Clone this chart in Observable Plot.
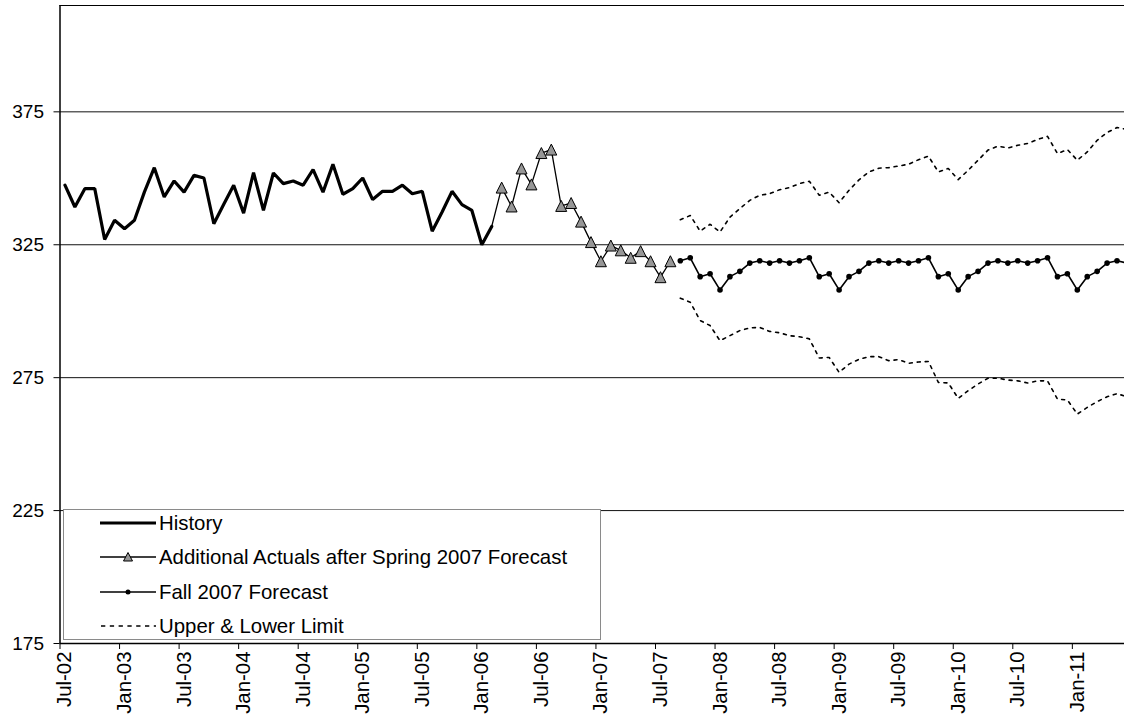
<!DOCTYPE html>
<html><head><meta charset="utf-8">
<script src="https://cdn.jsdelivr.net/npm/d3@7"></script>
<script src="https://cdn.jsdelivr.net/npm/@observablehq/plot@0.6"></script>
<style>
body{margin:0;background:#fff;font-family:"Liberation Sans",Arial,sans-serif;}
#wrap{position:relative;width:1124px;height:723px;overflow:hidden;}
#legend{position:absolute;left:63px;top:509px;width:538px;height:131px;border:1.5px solid #8a8a8a;background:#fff;box-sizing:border-box;}
.row{position:absolute;left:0;height:22px;width:530px;font-size:20.4px;color:#000;}
.row svg{position:absolute;left:36px;top:0;}
.row span{position:absolute;left:95px;top:0;line-height:22px;white-space:nowrap;}
</style></head><body><div id="wrap"><div id="legend"></div></div>
<script>
// ---- data (month offsets counted from Jul-02) ----
const tickLabels = ["Jul-02","Jan-03","Jul-03","Jan-04","Jul-04","Jan-05","Jul-05","Jan-06","Jul-06",
  "Jan-07","Jul-07","Jan-08","Jul-08","Jan-09","Jul-09","Jan-10","Jul-10","Jan-11"];
const totalMonths = 108;           // Jul-02 .. Jun-11
const yTicks = [175, 225, 275, 325, 375];

const historyStart = 0;            // Jul-02
const historyValues = [347.4,339.2,346.1,346.1,327.0,334.2,331.0,334.2,344.8,354.0,343.0,349.0,
  344.8,351.1,350.1,332.9,340.2,347.4,336.9,352.1,337.9,352.0,348.0,349.0,347.4,353.3,344.8,355.3,
  344.0,346.1,350.1,342.0,345.1,345.1,347.4,344.2,345.1,330.1,337.3,345.1,340.1,337.9,325.0,331.9];

const actualStart = 43;            // Feb-06 (joins history)
const actualValues = [331.9,346.5,339.4,353.7,347.7,359.5,360.8,339.6,340.7,333.7,326.0,318.8,
  324.7,322.9,320.1,322.6,318.8,312.8,318.8];

const forecastStart = 62;          // Sep-07
const forecastValues = [319.0,320.1,313.0,314.1,308.0,313.0,315.0,318.1,319.0,318.1,319.0,318.1,
  319.0,320.1,313.0,314.1,308.0,313.0,315.0,318.1,319.0,318.1,319.0,318.1,
  319.0,320.1,313.0,314.1,308.0,313.0,315.0,318.1,319.0,318.1,319.0,318.1,
  319.0,320.1,313.0,314.1,308.0,313.0,315.0,318.1,319.0,318.1];
const upperValues = [334.4,336.0,330.1,332.7,329.8,335.4,338.6,341.7,343.6,344.2,345.7,346.5,
  348.0,348.9,343.6,344.8,340.8,345.5,349.4,352.4,353.8,354.0,354.6,355.3,357.0,358.3,352.4,353.7,
  349.5,353.0,356.8,360.6,362.1,361.4,362.4,363.1,364.6,365.8,359.3,360.8,356.8,359.9,364.3,367.2,
  369.1,368.4];
const lowerValues = [304.9,303.4,296.5,294.6,288.9,290.8,292.7,293.7,293.9,292.4,291.9,290.8,
  290.4,289.6,282.4,282.6,277.0,280.1,281.9,282.9,282.9,281.4,281.8,280.4,280.9,281.1,273.2,273.0,
  267.2,270.1,272.6,274.8,274.8,274.1,273.8,273.0,273.8,273.8,266.9,266.6,261.3,263.8,266.0,267.8,
  269.0,267.8];

// ---- build tables ----
const rows = (vals, start) => vals.map((v, i) => ({t: start + i + 0.5, v}));
const history = rows(historyValues, historyStart);
const actual = rows(actualValues, actualStart);
const forecast = rows(forecastValues, forecastStart);
const upper = rows(upperValues, forecastStart);
const lower = rows(lowerValues, forecastStart);

const triangle = {draw(ctx, size) { const h = Math.sqrt(size); ctx.moveTo(0, -h/2); ctx.lineTo(h/2, h/2); ctx.lineTo(-h/2, h/2); ctx.closePath(); }};

const monthW = 9.925;
const x0 = 59.5;
const chart = Plot.plot({
  width: 1124, height: 723,
  marginLeft: x0, marginRight: 0, marginTop: 5, marginBottom: 80,
  style: {fontFamily: "'Liberation Sans', Arial, sans-serif", fontSize: "19px", color: "#000", background: "#fff"},
  x: {type: "linear", domain: [0, totalMonths], range: [x0, x0 + monthW * totalMonths], axis: null},
  y: {domain: [175, 415], range: [643, 5], axis: null},
  marks: [
    Plot.ruleY(yTicks.slice(1), {stroke: "#111", strokeWidth: 1}),
    Plot.ruleY([415], {stroke: "#000", strokeWidth: 1}),
    Plot.ruleX([0], {stroke: "#000", strokeWidth: 1.5}),
    Plot.ruleY([175], {stroke: "#000", strokeWidth: 1.5}),
    Plot.axisY({ticks: yTicks, tickSize: 6, tickPadding: 10, label: null, fontSize: 19, tickFormat: d => String(d)}),
    Plot.axisX({ticks: d3.range(0, totalMonths + 1, 6), tickSize: 6, tickFormat: () => "", label: null}),
    Plot.axisX({ticks: tickLabels.map((_, k) => 6 * k + 0.5), tickSize: 0, tickPadding: 8, tickRotate: -90, fontSize: 20.4,
      tickFormat: d => tickLabels[Math.round((d - 0.5) / 6)], label: null}),
    Plot.line(upper, {x: "t", y: "v", stroke: "#000", strokeWidth: 1.6, strokeDasharray: "3,5"}),
    Plot.line(lower, {x: "t", y: "v", stroke: "#000", strokeWidth: 1.6, strokeDasharray: "3,5"}),
    Plot.line(history, {x: "t", y: "v", stroke: "#000", strokeWidth: 3.2, strokeLinejoin: "miter"}),
    Plot.line(actual, {x: "t", y: "v", stroke: "#000", strokeWidth: 1.3}),
    Plot.dot(actual.slice(1), {x: "t", y: "v", symbol: triangle, r: 6.2, fill: "#969696", stroke: "#000", strokeWidth: 1}),
    Plot.line(forecast, {x: "t", y: "v", stroke: "#000", strokeWidth: 1.6}),
    Plot.dot(forecast, {x: "t", y: "v", r: 2.8, fill: "#000", stroke: "none"})
  ]
});
const wrap = document.getElementById("wrap");
wrap.insertBefore(chart, wrap.firstChild);

// ---- legend ----
const legendItems = [
  {label: "History", kind: "thick"},
  {label: "Additional Actuals after Spring 2007 Forecast", kind: "tri"},
  {label: "Fall 2007 Forecast", kind: "dot"},
  {label: "Upper & Lower Limit", kind: "dash"}
];
const legend = document.getElementById("legend");
legendItems.forEach((it, i) => {
  const row = document.createElement("div");
  row.className = "row";
  row.style.top = (2 + i * 34.3) + "px";
  let sw = "";
  if (it.kind === "thick") sw = '<line x1="0" y1="11" x2="56" y2="11" stroke="#000" stroke-width="3"/>';
  if (it.kind === "tri") sw = '<line x1="0" y1="11" x2="56" y2="11" stroke="#000" stroke-width="1.3"/><path d="M28,6.5L32.5,15L23.5,15Z" fill="#969696" stroke="#000" stroke-width="1"/>';
  if (it.kind === "dot") sw = '<line x1="0" y1="11" x2="56" y2="11" stroke="#000" stroke-width="1.5"/><circle cx="28" cy="11" r="2.5" fill="#000"/>';
  if (it.kind === "dash") sw = '<line x1="1" y1="11" x2="56" y2="11" stroke="#000" stroke-width="1.5" stroke-dasharray="4.3,4.5"/>';
  row.innerHTML = '<svg width="58" height="22">' + sw + '</svg><span>' + it.label.replace("&", "&amp;") + '</span>';
  legend.appendChild(row);
});
</script></body></html>
